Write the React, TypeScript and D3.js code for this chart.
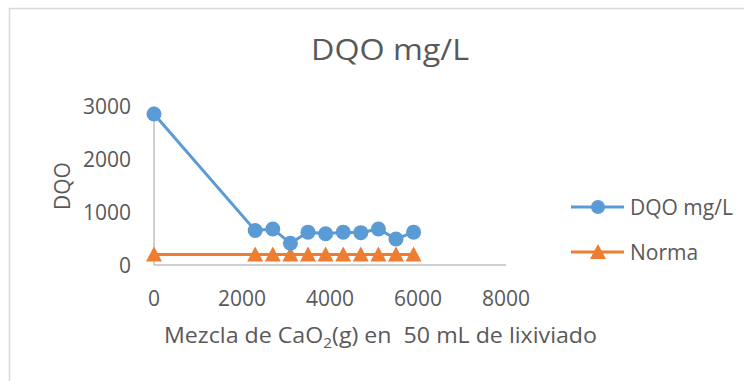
import React from "react";
import * as d3 from "d3";

const xValues = [0, 2300, 2700, 3100, 3500, 3900, 4300, 4700, 5100, 5500, 5900];
const dqoValues = [2850, 650, 680, 410, 620, 590, 620, 610, 680, 490, 620];
const normaValues = [200, 200, 200, 200, 200, 200, 200, 200, 200, 200, 200];
const xTicks = [0, 2000, 4000, 6000, 8000];
const yTicks = [0, 1000, 2000, 3000];
const seriesNames = ["DQO mg/L", "Norma"];
const titleText = "DQO mg/L";
const yTitle = "DQO";

const W = 744;
const H = 381;
const BLUE = "#5B9BD5";
const ORANGE = "#ED7D31";
const TEXT = "#595959";
const FONT = "'Open Sans', sans-serif";

export default function App() {
  const x = d3.scaleLinear().domain([0, 8000]).range([154, 506]);
  const y = d3.scaleLinear().domain([0, 3000]).range([265, 106]);

  const dqo = xValues.map((v, i) => [v, dqoValues[i]] as [number, number]);
  const norma = xValues.map((v, i) => [v, normaValues[i]] as [number, number]);
  const line = d3
    .line<[number, number]>()
    .x((d) => x(d[0]))
    .y((d) => y(d[1]));

  const tri = (cx: number, cy: number) =>
    `M${cx},${cy - 8} L${cx + 8},${cy + 7} L${cx - 8},${cy + 7} Z`;

  return (
    <svg
      width={W}
      height={H}
      style={{ position: "absolute", left: 0, top: 0, background: "#fff" }}
      fontFamily={FONT}
    >
      <rect x={0} y={0} width={W} height={H} fill="#fff" />
      <rect x={9.5} y={8.5} width={W + 20} height={H + 20} fill="none" stroke="#D9D9D9" strokeWidth={1.5} />

      <text x={390} y={60} textAnchor="middle" fontSize={29} fill={TEXT} textLength={158} lengthAdjust="spacingAndGlyphs">
        {titleText}
      </text>

      {/* axes */}
      <line x1={x(0)} x2={x(0)} y1={y(3000)} y2={y(0)} stroke="#BFBFBF" strokeWidth={1.5} />
      <line x1={x(0)} x2={x(8000)} y1={y(0)} y2={y(0)} stroke="#BFBFBF" strokeWidth={1.5} />

      {yTicks.map((t) => (
        <text key={t} x={131} y={y(t)} textAnchor="end" dominantBaseline="central" fontSize={21} fill={TEXT}>
          {t}
        </text>
      ))}
      {xTicks.map((t) => (
        <text key={t} x={x(t)} y={298} textAnchor="middle" dominantBaseline="central" fontSize={21} fill={TEXT}>
          {t}
        </text>
      ))}

      <text
        transform={`translate(62,186) rotate(-90)`}
        textAnchor="middle"
        dominantBaseline="central"
        fontSize={21}
        fill={TEXT}
      >
        {yTitle}
      </text>

      <text x={164} y={343} fontSize={21} fill={TEXT} style={{ whiteSpace: "pre" }} textLength={433} lengthAdjust="spacingAndGlyphs">
        <tspan>Mezcla de CaO</tspan>
        <tspan fontSize={14} dy={5}>2</tspan>
        <tspan dy={-5}>{"(g) en  50 mL de lixiviado"}</tspan>
      </text>

      {/* series */}
      <path d={line(norma) || ""} fill="none" stroke={ORANGE} strokeWidth={3} />
      {norma.map((d, i) => (
        <path key={i} d={tri(x(d[0]), y(d[1]))} fill={ORANGE} />
      ))}
      <path d={line(dqo) || ""} fill="none" stroke={BLUE} strokeWidth={3} />
      {dqo.map((d, i) => (
        <circle key={i} cx={x(d[0])} cy={y(d[1])} r={7.5} fill={BLUE} />
      ))}

      {/* legend */}
      <line x1={571} x2={624} y1={207} y2={207} stroke={BLUE} strokeWidth={3} />
      <circle cx={598} cy={207} r={7} fill={BLUE} />
      <text x={630} y={215} fontSize={21} fill={TEXT}>
        {seriesNames[0]}
      </text>
      <line x1={571} x2={624} y1={252} y2={252} stroke={ORANGE} strokeWidth={3} />
      <path d={tri(598, 252)} fill={ORANGE} />
      <text x={630} y={260} fontSize={21} fill={TEXT}>
        {seriesNames[1]}
      </text>
    </svg>
  );
}
